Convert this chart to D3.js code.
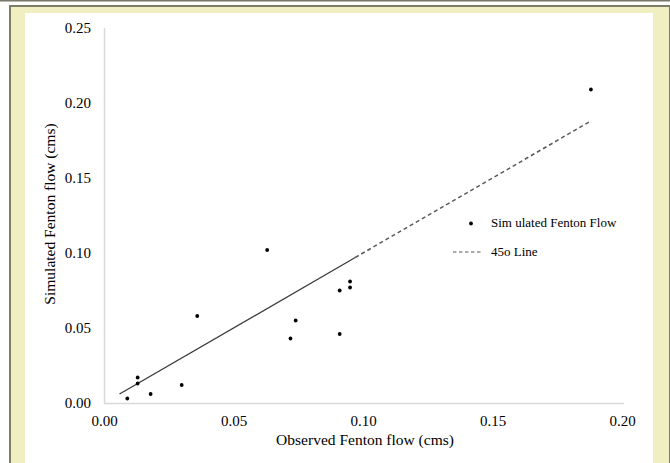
<!DOCTYPE html>
<html>
<head>
<meta charset="utf-8">
<script src="https://cdn.jsdelivr.net/npm/d3@7"></script>
<style>
  body { margin: 0; background: #fff; }
  svg { display: block; }
</style>
</head>
<body>
<div id="chart"></div>
<script>
// Observed vs simulated flow (cms)
var observed = [0.009, 0.013, 0.013, 0.018, 0.030, 0.036, 0.063, 0.072, 0.074, 0.091, 0.091, 0.095, 0.095, 0.188]
var simulated = [0.003, 0.017, 0.013, 0.006, 0.012, 0.058, 0.102, 0.043, 0.055, 0.075, 0.046, 0.077, 0.081, 0.209]

// 45 degree line: solid part, then dashed part
var solidLine = [0.006, 0.097]
var dashedLine = [0.097, 0.188]

var xTicks = [0, 0.05, 0.1, 0.15, 0.2]
var yTicks = [0, 0.05, 0.1, 0.15, 0.2, 0.25]

var legendLabels = ['Sim ulated Fenton Flow', '45o Line']

var width = 670
var height = 463
var margin = { top: 28, left: 104, right: 48, bottom: 60 }

var svg = d3.select('#chart')
  .append('svg')
  .attr('width', width)
  .attr('height', height)

// frame around the chart
svg.append('line')
  .attr('x1', 0).attr('x2', width)
  .attr('y1', 0.5).attr('y2', 0.5)
  .attr('stroke', '#77776a')
  .attr('stroke-width', 2)

svg.append('rect')
  .attr('x', 10).attr('y', 6)
  .attr('width', width - 10).attr('height', height)
  .attr('fill', '#efefc2')
  .attr('stroke', '#7d7d6a')
  .attr('stroke-width', 2)

svg.append('rect')
  .attr('x', 25).attr('y', 13)
  .attr('width', 628).attr('height', height)
  .attr('fill', '#fff')

var xPositionScale = d3.scaleLinear()
  .domain([0, 0.2])
  .range([margin.left, width - margin.right])

var yPositionScale = d3.scaleLinear()
  .domain([0, 0.25])
  .range([height - margin.bottom, margin.top])

// Axes
var xAxis = d3.axisBottom(xPositionScale)
  .tickValues(xTicks)
  .tickFormat(d3.format('.2f'))
  .tickSize(0)
  .tickPadding(12)

var yAxis = d3.axisLeft(yPositionScale)
  .tickValues(yTicks)
  .tickFormat(d3.format('.2f'))
  .tickSize(0)
  .tickPadding(13)

var gx = svg.append('g')
  .attr('class', 'axis x-axis')
  .attr('transform', 'translate(0,' + (height - margin.bottom) + ')')
  .call(xAxis)
gx.select('.domain').attr('d', 'M' + margin.left + ',0.5H' + (xPositionScale(0.2) + 2))

var gy = svg.append('g')
  .attr('class', 'axis y-axis')
  .attr('transform', 'translate(' + margin.left + ',0)')
  .call(yAxis)
gy.select('.domain').attr('d', 'M0.5,' + yPositionScale(0) + 'V' + yPositionScale(0.25))

svg.selectAll('.axis .domain')
  .attr('stroke', '#d9d9d9')
  .attr('stroke-width', 1.5)

svg.selectAll('.axis text')
  .attr('font-family', '"Liberation Serif", "Times New Roman", serif')
  .attr('font-size', 15)
  .attr('fill', '#000')

// 45o line
var line = d3.line()
  .x(d => xPositionScale(d))
  .y(d => yPositionScale(d))

svg.append('path')
  .datum(dashedLine)
  .attr('d', line)
  .attr('fill', 'none')
  .attr('stroke', '#5a5a5a')
  .attr('stroke-width', 1.5)
  .attr('stroke-dasharray', '4,3')

svg.append('path')
  .datum(solidLine)
  .attr('d', line)
  .attr('fill', 'none')
  .attr('stroke', '#3a3a3a')
  .attr('stroke-width', 1.3)

// points
svg.selectAll('.point')
  .data(observed)
  .enter()
  .append('circle')
  .attr('class', 'point')
  .attr('cx', d => xPositionScale(d))
  .attr('cy', (d, i) => yPositionScale(simulated[i]))
  .attr('r', 1.9)
  .attr('fill', '#000')

// axis titles
svg.append('text')
  .text('Observed Fenton flow  (cms)')
  .attr('x', 365)
  .attr('y', 445)
  .attr('text-anchor', 'middle')
  .attr('font-family', '"Liberation Serif", "Times New Roman", serif')
  .attr('font-size', 15.5)
  .attr('fill', '#000')

svg.append('text')
  .text('Simulated  Fenton flow  (cms)')
  .attr('transform', 'translate(55,214) rotate(-90)')
  .attr('text-anchor', 'middle')
  .attr('font-family', '"Liberation Serif", "Times New Roman", serif')
  .attr('font-size', 15.5)
  .attr('fill', '#000')

// legend
var legend = svg.append('g').attr('class', 'legend')

legend.append('circle')
  .attr('cx', 471)
  .attr('cy', 223.5)
  .attr('r', 1.9)
  .attr('fill', '#000')

legend.append('line')
  .attr('x1', 453).attr('x2', 483)
  .attr('y1', 252).attr('y2', 252)
  .attr('stroke', '#5a5a5a')
  .attr('stroke-width', 1.2)
  .attr('stroke-dasharray', '3.5,2.5')

legend.selectAll('.legend-label')
  .data(legendLabels)
  .enter()
  .append('text')
  .attr('class', 'legend-label')
  .text(d => d)
  .attr('x', 491)
  .attr('y', (d, i) => 227 + i * 28.5)
  .attr('font-family', '"Liberation Serif", "Times New Roman", serif')
  .attr('font-size', 13)
  .attr('fill', '#000')
</script>
</body>
</html>
